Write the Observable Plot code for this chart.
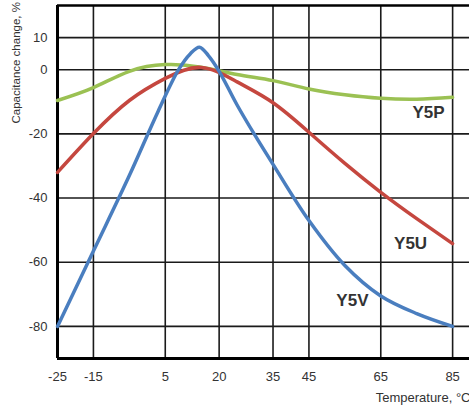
<!DOCTYPE html>
<html>
<head>
<meta charset="utf-8">
<script src="https://cdn.jsdelivr.net/npm/d3@7"></script>
<script src="https://cdn.jsdelivr.net/npm/@observablehq/plot@0.6"></script>
<style>
  html, body { margin: 0; padding: 0; background: #fff; }
</style>
</head>
<body>
<div id="chart"></div>
<script>
// ---- data ----
const xTicks = [-25, -15, 5, 20, 35, 45, 65, 85];
const yTicks = [10, 0, -20, -40, -60, -80];

const y5vX = [-25, -15, -5, 3, 8.7, 12, 14.5, 17, 20, 25, 30, 35, 45, 55, 65, 75, 85];
const y5vY = [-80, -56.5, -33, -13, 0, 5, 7, 4.4, -0.5, -11, -20.5, -29.5, -47, -61, -70.5, -76, -80];

const y5uX = [-25, -15, -5, 5, 15, 25, 35, 45, 55, 65, 75, 85];
const y5uY = [-32, -19.9, -9.6, -2.7, 0.7, -3.8, -10.3, -19.5, -29.2, -38.2, -46.4, -54.2];

const y5pX = [-25, -15, -5, 5, 15, 25, 35, 45, 55, 65, 75, 85];
const y5pY = [-9.6, -5.6, -0.5, 1.6, 0.8, -1.5, -3.4, -6, -7.8, -8.9, -9.2, -8.6];

const seriesNames = ["Y5V", "Y5U", "Y5P"];
const seriesColors = ["#4a7ebf", "#c5473f", "#9bc153"];
const labelX = [57.1, 73.3, 78.3];
const labelY = [-71.9, -54.2, -13.3];

// ---- build rows ----
const toRows = (xs, ys, s) => xs.map((x, j) => ({series: s, x, y: ys[j]}));
const rowsV = toRows(y5vX, y5vY, "Y5V");
const rowsU = toRows(y5uX, y5uY, "Y5U");
const rowsP = toRows(y5pX, y5pY, "Y5P");
const labels = seriesNames.map((s, i) => ({series: s, x: labelX[i], y: labelY[i]}));

const gridX = xTicks.slice(1);
const gridY = yTicks;
const narrow = "'Liberation Sans Narrow', 'Arial Narrow', 'Liberation Sans', Arial, sans-serif";
const fmt = d => String(d);

const chart = Plot.plot({
  width: 469,
  height: 407,
  marginLeft: 57,
  marginRight: 0,
  marginTop: 5,
  marginBottom: 49,
  style: {background: "#fff", overflow: "visible"},
  x: {domain: [-25, 89.7], axis: null},
  y: {domain: [-90, 20], axis: null},
  color: {domain: seriesNames, range: seriesColors},
  marks: [
    Plot.ruleX(gridX, {stroke: "#1a1a1a", strokeWidth: 1.6}),
    Plot.ruleY(gridY, {stroke: "#1a1a1a", strokeWidth: 1.6}),
    Plot.ruleY([20], {stroke: "#000", strokeWidth: 2.5}),
    Plot.ruleY([-90], {stroke: "#000", strokeWidth: 3}),
    Plot.ruleX([-25], {stroke: "#000", strokeWidth: 3}),
    Plot.line(rowsP, {x: "x", y: "y", stroke: "series", strokeWidth: 3.5, curve: "natural"}),
    Plot.line(rowsU, {x: "x", y: "y", stroke: "series", strokeWidth: 3.5, curve: "natural"}),
    Plot.line(rowsV, {x: "x", y: "y", stroke: "series", strokeWidth: 3.5, curve: "catmull-rom"}),
    Plot.axisX(xTicks, {tickSize: 0, tickPadding: 13, fontSize: 13, fontFamily: narrow, fill: "#333", label: null, tickFormat: fmt}),
    Plot.axisY(yTicks, {tickSize: 0, tickPadding: 10, fontSize: 13, fontFamily: narrow, fill: "#333", label: null, tickFormat: fmt}),
    Plot.text(labels, {x: "x", y: "y", text: "series", fontSize: 17, fontWeight: "bold", fontFamily: "'Liberation Sans', Arial, sans-serif", fill: "#333"}),
    Plot.text(["Temperature, °C"], {frameAnchor: "bottom-right", text: d => d, textAnchor: "end", lineAnchor: "middle", dy: 39, dx: 1, fontSize: 13, fontFamily: narrow, fill: "#333"}),
    Plot.text(["Capacitance change, %"], {frameAnchor: "top-left", text: d => d, rotate: -90, textAnchor: "start", lineAnchor: "middle", dx: -41, dy: 118, fontSize: 11.5, fontFamily: "'Liberation Sans', Arial, sans-serif", fill: "#333"})
  ]
});
document.getElementById("chart").appendChild(chart);
</script>
</body>
</html>
